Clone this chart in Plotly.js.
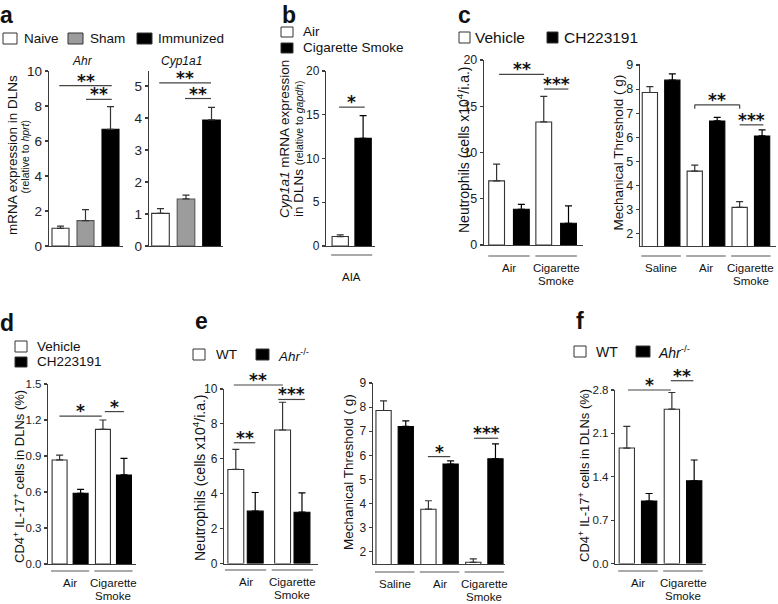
<!DOCTYPE html>
<html><head><meta charset="utf-8">
<script src="https://cdn.plot.ly/plotly-3.0.1.min.js"></script>
<style>html,body{margin:0;padding:0;background:#fff;}#chart{width:778px;height:604px;}</style>
</head><body><div id="chart"></div>
<script>
// ---------------- data ----------------
const aGroups = ['Naive', 'Sham', 'Immunized'];
const aGenes = ['Ahr', 'Cyp1a1'];
const aAhrMean = [1.01, 1.45, 6.67];
const aAhrSem  = [0.13, 0.63, 1.29];
const aCypMean = [1.02, 1.47, 3.94];
const aCypSem  = [0.15, 0.12, 0.39];

const bSeries = ['Air', 'Cigarette Smoke'];
const bGroups = ['AIA'];
const bAirMean = [1.08];  const bAirSem = [0.19];
const bCsMean  = [12.3];  const bCsSem  = [2.6];

const cSeries = ['Vehicle', 'CH223191'];
const cNeuGroups = ['Air', 'Cigarette Smoke'];
const cNeuVehMean = [6.93, 13.3];  const cNeuVehSem = [1.81, 2.76];
const cNeuChMean  = [3.86, 2.35];  const cNeuChSem  = [0.54, 1.87];
const cMechGroups = ['Saline', 'Air', 'Cigarette Smoke'];
const cMechVehMean = [7.86, 4.60, 3.10];  const cMechVehSem = [0.24, 0.25, 0.24];
const cMechChMean  = [8.37, 6.68, 6.06];  const cMechChSem  = [0.26, 0.15, 0.25];

const dSeries = ['Vehicle', 'CH223191'];
const dGroups = ['Air', 'Cigarette Smoke'];
const dVehMean = [0.867, 1.122];  const dVehSem = [0.041, 0.078];
const dChMean  = [0.589, 0.742];  const dChSem  = [0.033, 0.138];

const eSeries = ['WT', 'Ahr-/-'];
const eNeuGroups = ['Air', 'Cigarette Smoke'];
const eNeuWtMean = [5.39, 7.65];  const eNeuWtSem = [1.15, 1.59];
const eNeuKoMean = [3.00, 2.94];  const eNeuKoSem = [1.07, 1.11];
const eMechGroups = ['Saline', 'Air', 'Cigarette Smoke'];
const eMechWtMean = [7.86, 3.77, 1.57];  const eMechWtSem = [0.40, 0.35, 0.14];
const eMechKoMean = [7.20, 5.64, 5.86];  const eMechKoSem = [0.23, 0.13, 0.62];

const fSeries = ['WT', 'Ahr-/-'];
const fGroups = ['Air', 'Cigarette Smoke'];
const fWtMean = [1.863, 2.49];  const fWtSem = [0.35, 0.27];
const fKoMean = [1.007, 1.335]; const fKoSem = [0.123, 0.335];

// significance marks: [from, to] in category units, height in data units
const aAhrSig = [{from:-0.05, to:2.05, at:9.16, mark:'**'}, {from:1.02, to:2.05, at:8.38, mark:'**'}];
const aCypSig = [{from:-0.05, to:1.98, at:5.10, mark:'**'}, {from:0.96, to:1.98, at:4.61, mark:'**'}];
const bSig    = [{from:-0.27, to:0.28, at:15.87, mark:'*'}];
const cNeuSig = [{from:-0.21, to:0.745, at:18.45, mark:'**'}, {from:0.745, to:1.26, at:16.86, mark:'***'}];
const cMechSig= [{from:0.75, to:1.75, at:7.35, mark:'**', bracket:true}, {from:1.75, to:2.28, at:6.52, mark:'***'}];
const dSig    = [{from:-0.246, to:0.729, at:1.233, mark:'*'}, {from:0.80, to:1.24, at:1.27, mark:'*'}];
const eNeuSig = [{from:-0.25, to:0.80, at:10.23, mark:'**'}, {from:0.70, to:1.27, at:9.40, mark:'***'}, {from:-0.25, to:0.21, at:6.92, mark:'**'}];
const eMechSig= [{from:0.74, to:1.24, at:5.95, mark:'*'}, {from:1.77, to:2.31, at:6.71, mark:'***'}];
const fSig    = [{from:-0.22, to:0.73, at:2.80, mark:'*'}, {from:0.73, to:1.23, at:2.95, mark:'**'}];

// ---------------- geometry & style ----------------
const W = 778, H = 604;
const FONT = 'Liberation Sans, Arial, Helvetica, sans-serif';
const AX = '#3c3c3c', EDGE = '#333333', WHITE = '#ffffff', BLACK = '#000000', GREY = '#9c9c9c';
const G = {
  aAhr:{x0:49,  x1:123, xr:[-0.46,2.5],  yt:71,  yb:246,   yr:[0,10],     w:0.68},
  aCyp:{x0:149, x1:223, xr:[-0.45,2.45], yt:71,  yb:246,   yr:[0,5.47],   w:0.69},
  b:   {x0:326, x1:375, xr:[-0.55,0.5],  yt:71,  yb:246,   yr:[0,20],     w:0.35, gap:0.14,  ul:255, lab:22},
  cL:  {x0:484, x1:583, xr:[-0.53,1.57], yt:60,  yb:245,   yr:[0,20],     w:0.335,gap:0.19,  ul:256, lab:12},
  cR:  {x0:640, x1:776, xr:[-0.47,2.56], yt:64,  yb:246,   yr:[1.5,9.04], w:0.34, gap:0.16,  ul:256, lab:12},
  d:   {x0:48,  x1:136, xr:[-0.51,1.52], yt:384, yb:564,   yr:[0,1.5],    w:0.345,gap:0.14,  ul:571, lab:11.5},
  eL:  {x0:224, x1:318, xr:[-0.46,1.55], yt:389, yb:563.5, yr:[0,10],     w:0.34, gap:0.075, ul:570, lab:12},
  eR:  {x0:372.7,x1:505,xr:[-0.49,2.46], yt:383, yb:564,   yr:[1.5,9],    w:0.34, gap:0.155, ul:572, lab:11.5},
  f:   {x0:615, x1:706, xr:[-0.51,1.51], yt:390, yb:563.5, yr:[0,2.8],    w:0.34, gap:0.155, ul:571, lab:11.5}
};

const traces = [];
const shapes = [];
const annotations = [];
const layout = {
  width:W, height:H, margin:{l:0,r:0,t:0,b:0}, paper_bgcolor:'#ffffff', plot_bgcolor:'rgba(0,0,0,0)',
  barmode:'overlay', showlegend:false, font:{family:FONT, color:'#111'}, shapes, annotations
};

function ids(i){ const s = i===1 ? '' : String(i); return {x:'x'+s, y:'y'+s, xk:'xaxis'+s, yk:'yaxis'+s}; }
function fx(g,u){ return (g.x0 + (u-g.xr[0])/(g.xr[1]-g.xr[0])*(g.x1-g.x0))/W; }
function fy(g,v){ return 1 - (g.yb - (v-g.yr[0])/(g.yr[1]-g.yr[0])*(g.yb-g.yt))/H; }
function PX(px){ return px/W; }
function PY(py){ return 1 - py/H; }

function axes(i, g, yextra, tsize){
  const a = ids(i);
  layout[a.xk] = {domain:[g.x0/W, g.x1/W], range:g.xr, type:'category', anchor:a.y, showline:true, linecolor:AX, linewidth:1.2,
    ticks:'', showticklabels:false, showgrid:false, zeroline:false, fixedrange:true};
  layout[a.yk] = Object.assign({domain:[1-g.yb/H, 1-g.yt/H], range:g.yr, anchor:a.x, showline:true, linecolor:AX, linewidth:1.2,
    ticks:'outside', ticklen:3, tickwidth:1.1, tickcolor:AX, showgrid:false, zeroline:false,
    tickfont:{family:FONT, size:tsize, color:'#222'}, fixedrange:true}, yextra);
}
function bars(i, cats, mean, sem, fill, edge, errc, width, offset, name){
  const a = ids(i);
  traces.push({type:'bar', name, x:cats, y:mean, xaxis:a.x, yaxis:a.y, width, offset,
    marker:{color:fill, line:{color:edge, width:1.1}},
    error_y:{type:'data', symmetric:false, array:sem, arrayminus:sem.map(()=>0), color:errc, thickness:1.2, width:3.5},
    hoverinfo:'skip'});
}
function pair(i, g, cats, m1, s1, m2, s2, names){
  bars(i, cats, m1, s1, WHITE, EDGE, EDGE, g.w, -(g.w + g.gap/2), names[0]);
  bars(i, cats, m2, s2, BLACK, BLACK, BLACK, g.w, g.gap/2, names[1]);
}
function txt(text, xpx, ypx, size, opts){
  return Object.assign({text, x:PX(xpx), y:PY(ypx), xref:'paper', yref:'paper', showarrow:false,
    xanchor:'center', yanchor:'middle', font:{family:FONT, size, color:'#111'}}, opts || {});
}
function line(x0, y0, x1, y1, color, w){
  shapes.push({type:'line', xref:'paper', yref:'paper', x0, y0, x1, y1, line:{color, width:w}});
}
function sig(g, list){
  list.forEach(s => {
    const y = fy(g, s.at);
    line(fx(g, s.from), y, fx(g, s.to), y, '#444', 1.2);
    if (s.bracket){
      line(fx(g, s.from), y, fx(g, s.from), y - 4/H, '#444', 1.2);
      line(fx(g, s.to), y, fx(g, s.to), y - 4/H, '#444', 1.2);
    }
    annotations.push({text:'<b>'+s.mark+'</b>', x:fx(g,(s.from+s.to)/2), y, xref:'paper', yref:'paper', showarrow:false,
      xanchor:'center', yanchor:'bottom', yshift:-7, font:{family:'DejaVu Sans', size:17, color:'#111'}});
  });
}
function groupLabels(g, cats, size){
  cats.forEach((c, k) => {
    line(fx(g, k-0.44), PY(g.ul), fx(g, k+0.44), PY(g.ul), '#555', 1.2);
    const parts = c.split(' ');
    parts.forEach((p, j) => {
      annotations.push({text:p, x:fx(g,k), y:PY(g.ul + g.lab + j*13), xref:'paper', yref:'paper', showarrow:false,
        xanchor:'center', yanchor:'middle', borderpad:0, font:{family:FONT, size, color:'#111'}});
    });
  });
}
function box(x0, y0, x1, y1, fill){
  shapes.push({type:'rect', xref:'paper', yref:'paper', x0:PX(x0), x1:PX(x1), y0:PY(y1), y1:PY(y0),
    fillcolor:fill, line:{color:'#333', width:1}});
}
function legendText(text, x, y, size){ annotations.push(txt(text, x, y, size, {xanchor:'left'})); }
function ytitle(text, x, y, size){ annotations.push(txt(text, x, y, size, {textangle:-90})); }
function letter(t, x, ytop){ annotations.push(txt('<b>'+t+'</b>', x-2, ytop, 23, {xanchor:'left', yanchor:'top'})); }
const fmtKO = s => s.replace(/^Ahr(.*)$/, '<i>Ahr</i><sup>$1</sup>');
const LAB = 11.5;

// ---------------- panel a ----------------
axes(1, G.aAhr, {dtick:2}, 13.5);
axes(2, G.aCyp, {dtick:1}, 13.5);
const aFill = [WHITE, GREY, BLACK], aEdge = [EDGE, '#555', BLACK];
bars(1, aGroups, aAhrMean, aAhrSem, aFill, aEdge, EDGE, G.aAhr.w, -G.aAhr.w/2, aGenes[0]);
bars(2, aGroups, aCypMean, aCypSem, aFill, aEdge, EDGE, G.aCyp.w, -G.aCyp.w/2, aGenes[1]);
sig(G.aAhr, aAhrSig); sig(G.aCyp, aCypSig);
annotations.push(txt('<i>'+aGenes[0]+'</i>', 82, 61, 12));
annotations.push(txt('<i>'+aGenes[1]+'</i>', 181, 61, 12));
letter('a', 0, 0);
box(3,33,17,44,WHITE); legendText(aGroups[0], 22, 39, 13.5);
box(68,33,83,44,GREY); legendText(aGroups[1], 88, 39, 13.5);
box(137,33,152,44,BLACK); legendText(aGroups[2], 156, 39, 13.5);
ytitle('mRNA expression in DLNs', 12, 155, 13.5);
ytitle('(relative to <i>hprt</i>)', 24.5, 157, 10.5);

// ---------------- panel b ----------------
axes(3, G.b, {dtick:5}, 12);
pair(3, G.b, bGroups, bAirMean, bAirSem, bCsMean, bCsSem, bSeries);
sig(G.b, bSig); groupLabels(G.b, bGroups, LAB);
letter('b', 282, 0);
box(281,27,293,37,WHITE); legendText(bSeries[0], 301, 31.5, 13.5);
box(281,43,293,53,BLACK); legendText(bSeries[1], 301, 48, 13.5);
ytitle('<i>Cyp1a1</i> mRNA expression', 284, 139, 13.5);
ytitle('in DLNs <span style="font-size:10.5px">(relative to <i>gapdh</i>)</span>', 298.5, 149.5, 13.5);

// ---------------- panel c ----------------
axes(4, G.cL, {dtick:5}, 12.5);
axes(5, G.cR, {dtick:1}, 12.5);
pair(4, G.cL, cNeuGroups, cNeuVehMean, cNeuVehSem, cNeuChMean, cNeuChSem, cSeries);
pair(5, G.cR, cMechGroups, cMechVehMean, cMechVehSem, cMechChMean, cMechChSem, cSeries);
sig(G.cL, cNeuSig); sig(G.cR, cMechSig);
groupLabels(G.cL, cNeuGroups, LAB); groupLabels(G.cR, cMechGroups, LAB);
letter('c', 458, 0);
box(459,32,470,43,WHITE); legendText(cSeries[0], 473, 37.5, 15.5);
box(547,32,558,43,BLACK); legendText(cSeries[1], 562, 37.5, 15.5);
ytitle('Neutrophils (cells x10<sup>4</sup>/i.a.)', 463, 150, 14);
ytitle('Mechanical Threshold ( g)', 617.5, 153, 13.5);

// ---------------- panel d ----------------
axes(6, G.d, {dtick:0.3, tickformat:'.1f'}, 11.5);
pair(6, G.d, dGroups, dVehMean, dVehSem, dChMean, dChSem, dSeries);
sig(G.d, dSig); groupLabels(G.d, dGroups, LAB);
letter('d', 0, 308);
box(15,341,27,352,WHITE); legendText(dSeries[0], 35, 346.5, 13.5);
box(15,357,27,367,BLACK); legendText(dSeries[1], 35, 362, 13.5);
ytitle('CD4<sup>+</sup> IL-17<sup>+</sup> cells in DLNs (%)', 19, 477, 13);

// ---------------- panel e ----------------
axes(7, G.eL, {dtick:2}, 12);
axes(8, G.eR, {dtick:1}, 12);
pair(7, G.eL, eNeuGroups, eNeuWtMean, eNeuWtSem, eNeuKoMean, eNeuKoSem, eSeries);
pair(8, G.eR, eMechGroups, eMechWtMean, eMechWtSem, eMechKoMean, eMechKoSem, eSeries);
sig(G.eL, eNeuSig); sig(G.eR, eMechSig);
groupLabels(G.eL, eNeuGroups, LAB); groupLabels(G.eR, eMechGroups, LAB);
letter('e', 195, 306);
box(193,349,205,360,WHITE); legendText(eSeries[0], 214, 354.5, 13.5);
box(256,349,269,360,BLACK); legendText(fmtKO(eSeries[1]), 276, 354.5, 13.5);
ytitle('Neutrophils (cells x10<sup>4</sup>/i.a.)', 199, 477, 14);
ytitle('Mechanical Threshold ( g)', 348, 472, 13.5);

// ---------------- panel f ----------------
axes(9, G.f, {dtick:0.7, tickformat:'.1f'}, 11.5);
pair(9, G.f, fGroups, fWtMean, fWtSem, fKoMean, fKoSem, fSeries);
sig(G.f, fSig); groupLabels(G.f, fGroups, LAB);
letter('f', 576, 306);
box(574,346,586,357,WHITE); legendText(fSeries[0], 594, 351.5, 14);
box(636,346,650,357,BLACK); legendText(fmtKO(fSeries[1]), 656, 351.5, 14);
ytitle('CD4<sup>+</sup> IL-17<sup>+</sup> cells in DLNs (%)', 584, 476, 13);

Plotly.newPlot('chart', traces, layout, {staticPlot:true, displayModeBar:false});
</script>
</body></html>
